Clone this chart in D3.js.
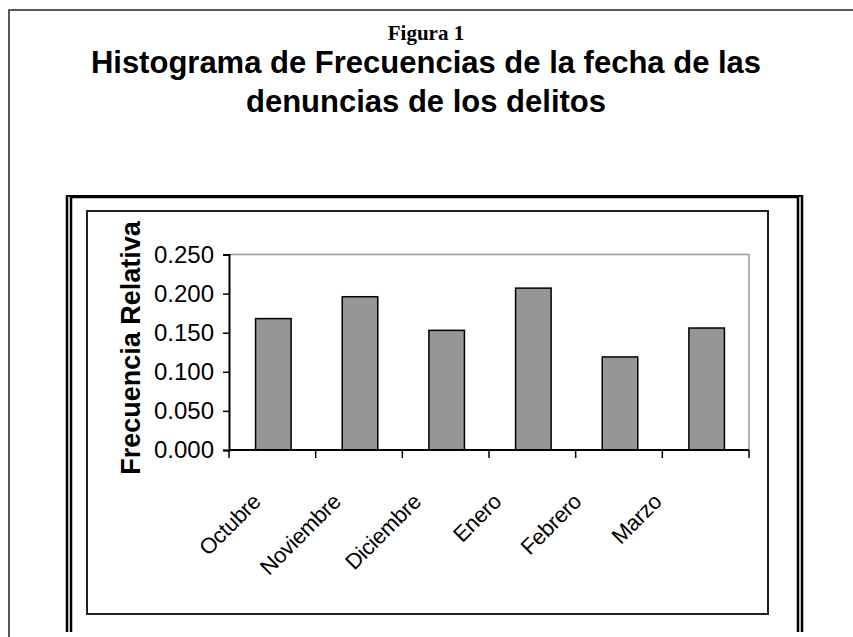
<!DOCTYPE html>
<html>
<head>
<meta charset="utf-8">
<script src="https://cdn.jsdelivr.net/npm/d3@7"></script>
<style>
  body { margin: 0; background: #fff; }
  text { font-family: Arial, "Liberation Sans", sans-serif; }
</style>
</head>
<body>
<svg id="chart"></svg>
<script>
const months = ["Octubre", "Noviembre", "Diciembre", "Enero", "Febrero", "Marzo"]
const freq = [0.168, 0.196, 0.153, 0.207, 0.119, 0.156]
const yTicks = [0, 0.05, 0.1, 0.15, 0.2, 0.25]

const width = 853, height = 637
const svg = d3.select("#chart").attr("width", width).attr("height", height)

// outer page frame
svg.append("rect")
  .attr("x", 9).attr("y", 10)
  .attr("width", 870).attr("height", 700)
  .attr("fill", "none").attr("stroke", "#222").attr("stroke-width", 1.5)

// titles
svg.append("text")
  .attr("x", 426).attr("y", 40)
  .attr("text-anchor", "middle")
  .style("font-family", "'Times New Roman', 'Liberation Serif', serif")
  .style("font-weight", "bold").style("font-size", "21px")
  .text("Figura 1")
const titleLines = ["Histograma de Frecuencias de la fecha de las", "denuncias de los delitos"]
svg.append("g").selectAll("text")
  .data(titleLines)
  .enter().append("text")
  .attr("x", 426).attr("y", (d, i) => 73 + i * 39)
  .attr("text-anchor", "middle")
  .style("font-weight", "bold").style("font-size", "31px")
  .text(d => d)

// double frame round the chart object
const frame = svg.append("g").attr("fill", "none").attr("stroke", "#000")
frame.append("line").attr("x1", 67).attr("x2", 67).attr("y1", 195).attr("y2", 632).attr("stroke-width", 2.5)
frame.append("line").attr("x1", 802).attr("x2", 802).attr("y1", 195).attr("y2", 632).attr("stroke-width", 2.5)
frame.append("path").attr("d", "M71,632V197H798V632").attr("stroke-width", 2.5)
frame.append("line").attr("x1", 66).attr("x2", 803).attr("y1", 196).attr("y2", 196).attr("stroke-width", 2)

// chart area
svg.append("rect")
  .attr("x", 87).attr("y", 211).attr("width", 681).attr("height", 403)
  .attr("fill", "none").attr("stroke", "#222").attr("stroke-width", 2)

const plot = { left: 229, right: 749, top: 254.5, bottom: 450 }

const x = d3.scaleBand().domain(months).range([plot.left, plot.right]).padding(0)
const y = d3.scaleLinear().domain([0, 0.25]).range([plot.bottom, plot.top])
// the category labels sit a little tighter than the bars
const xLabel = d3.scalePoint().domain(months).range([plot.left + 33, plot.right - 86])

// plot border (grey top and right)
svg.append("path")
  .attr("d", `M${plot.left},${plot.top}H${plot.right}V${plot.bottom}`)
  .attr("fill", "none").attr("stroke", "#999").attr("stroke-width", 1.5)

// bars
const barW = x.bandwidth() * 0.41
svg.append("g").selectAll("rect")
  .data(months)
  .enter().append("rect")
  .attr("x", d => x(d) + (x.bandwidth() - barW) / 2 + 1)
  .attr("y", (d, i) => y(freq[i]))
  .attr("width", barW)
  .attr("height", (d, i) => y(0) - y(freq[i]))
  .attr("fill", "#969696").attr("stroke", "#000").attr("stroke-width", 1.5)

// y axis
const yAxis = svg.append("g")
  .attr("transform", `translate(${plot.left},0)`)
  .call(d3.axisLeft(y).tickValues(yTicks).tickFormat(d3.format(".3f")).tickSize(6).tickPadding(9))
yAxis.select(".domain").attr("stroke", "#000").attr("stroke-width", 2)
yAxis.selectAll(".tick line").attr("stroke", "#000").attr("stroke-width", 1.5)
yAxis.selectAll(".tick text")
  .style("font-family", "Arial, 'Liberation Sans', sans-serif")
  .style("font-size", "24px").attr("fill", "#000")

// x axis: ticks sit between the categories
const xAxis = svg.append("g").attr("transform", `translate(0,${plot.bottom})`)
xAxis.append("line")
  .attr("x1", plot.left).attr("x2", plot.right)
  .attr("stroke", "#000").attr("stroke-width", 2)
const edges = months.map(d => x(d)).concat([plot.right])
xAxis.selectAll(".edge")
  .data(edges)
  .enter().append("line")
  .attr("class", "edge")
  .attr("x1", d => d).attr("x2", d => d)
  .attr("y1", 0).attr("y2", 8)
  .attr("stroke", "#000").attr("stroke-width", 1.5)
xAxis.selectAll(".lbl")
  .data(months)
  .enter().append("text")
  .attr("class", "lbl")
  .attr("transform", d => `translate(${xLabel(d)},${53}) rotate(-45)`)
  .attr("text-anchor", "end")
  .style("font-size", "22px").style("letter-spacing", "-0.3px")
  .text(d => d)

// y axis title
svg.append("text")
  .attr("transform", `translate(140,348) rotate(-90)`)
  .attr("text-anchor", "middle")
  .style("font-weight", "bold").style("font-size", "27px")
  .text("Frecuencia Relativa")
</script>
</body>
</html>
